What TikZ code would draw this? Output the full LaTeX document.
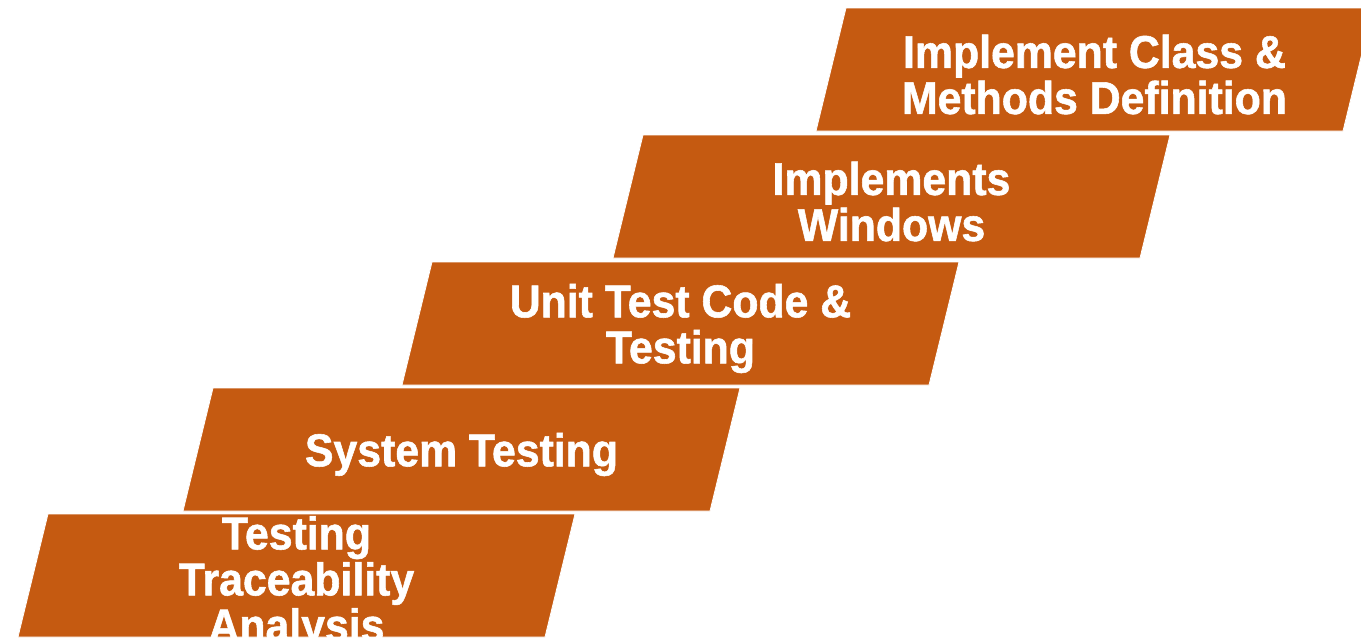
\documentclass[tikz,border=0pt]{standalone}
\usepackage{fontspec}
\setmainfont{Liberation Sans}[FakeStretch=0.93, BoldFeatures={FakeBold=1.2}]
\definecolor{stepfill}{RGB}{197,90,17}
\begin{document}
\begin{tikzpicture}[x=1pt,y=-1pt,
  stair/.style={fill=stepfill, draw=white, line width=0.8pt},
  steplabel/.style={text=white, align=center, inner sep=0pt,
    font=\bfseries\fontsize{46}{46}\selectfont}]
\useasboundingbox (0,0) rectangle (1361,643);
\clip (0,0) rectangle (1361,637.5);
% parallelogram steps: bottom-left corner, width 527, height 123, slant 30
\foreach \bx/\by/\nm in {816/131/s1, 613/258/s2, 402/385/s3, 183/511/s4, 18/637/s5}{
  \filldraw[stair] (\bx,\by) -- ++(527,0) -- ++(30,-123) -- ++(-527,0) -- cycle;
  \coordinate (\nm c) at (\bx+278.5,\by-61.5);
}
\node[steplabel] (t1) at ([yshift=-5pt]s1c) {Implement Class \&\\Methods Definition};
\node[steplabel] (t2) at ([yshift=-5pt]s2c) {Implements\\Windows};
\node[steplabel] (t3) at ([yshift=-5pt]s3c) {Unit Test Code \&\\Testing};
\node[steplabel] (t4) at ([yshift=-5pt]s4c) {System Testing};
\node[steplabel] (t5) at ([yshift=-8pt]s5c) {Testing\\Traceability\\Analysis};
\end{tikzpicture}
\end{document}
